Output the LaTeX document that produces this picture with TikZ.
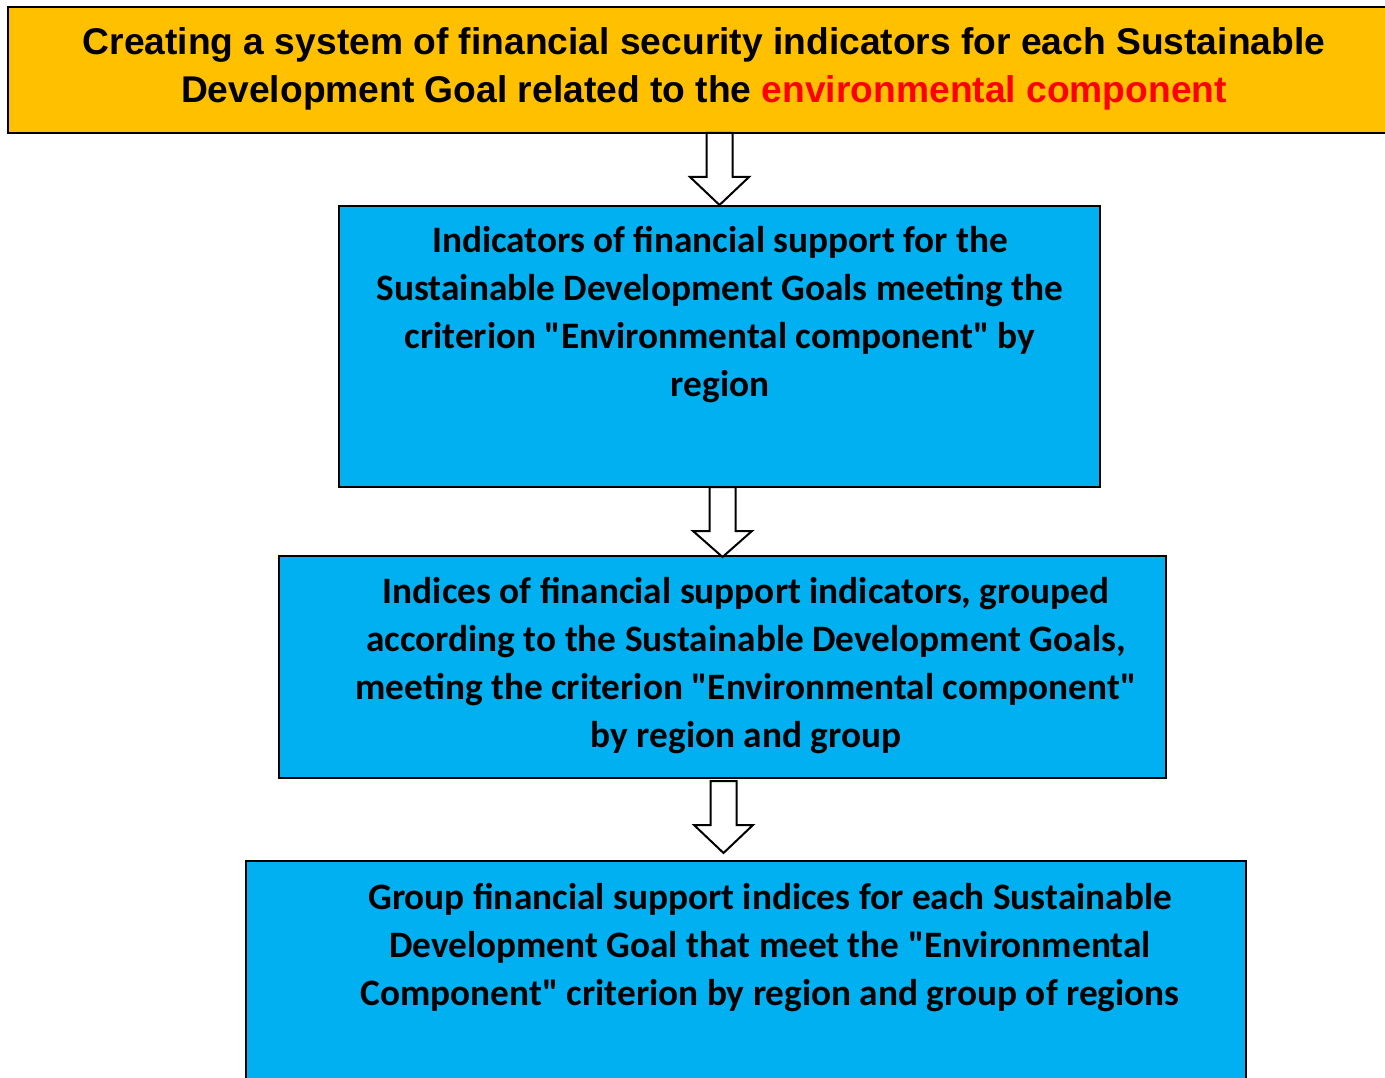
\documentclass[tikz,border=0pt]{standalone}
\usepackage{fontspec}
\newfontfamily\arialfont{Liberation Sans}
\newfontfamily\calibrifont{Carlito}
\usetikzlibrary{calc}
\definecolor{goldbox}{HTML}{FFC000}
\definecolor{bluebox}{HTML}{00B0F0}
\definecolor{redtext}{HTML}{FF0000}
\tikzset{
  boxstyle/.style={draw=black, line width=2pt, inner sep=0pt},
  titletext/.style={inner sep=0pt, align=center, font=\arialfont\bfseries\fontsize{37.2}{48}\selectfont},
  bodytext/.style={inner sep=0pt, align=center, font=\calibrifont\bfseries\fontsize{37.3}{48}\selectfont},
  hollow/.style={draw=black, fill=white, line width=2pt, line join=miter},
}
\newcommand\hollowarrow[3]{% start, tip, head length
  \draw[hollow] ($(#1)+(-13,0)$) -- ($(#1)+(13,0)$) -- ($(#2)+(13,#3)$) -- ($(#2)+(29.5,#3)$)
    -- (#2) -- ($(#2)+(-29.5,#3)$) -- ($(#2)+(-13,#3)$) -- cycle;
}
\begin{document}
\begin{tikzpicture}[x=1pt,y=-1pt]
\useasboundingbox (0,0) rectangle (1385,1078);
% boxes
\path[boxstyle, fill=goldbox] (8,7) rectangle (1400,133);
\node[boxstyle, fill=bluebox, minimum width=761pt, minimum height=281pt] (b1) at (719.5,346.5) {};
\node[boxstyle, fill=bluebox, minimum width=887pt, minimum height=222pt] (b2) at (722.5,667) {};
\node[boxstyle, fill=bluebox, minimum width=1000pt, minimum height=260pt] (b3) at (746,991) {};
% texts
\node[titletext] (t0) at (704,69) {Creating a system of financial security indicators for each Sustainable\\Development Goal related to the \textcolor{redtext}{environmental component}};
\node[bodytext] (t1) at (720,315) {Indicators of financial support for the\\Sustainable Development Goals meeting the\\criterion "Environmental component" by\\region};
\node[bodytext] (t2) at (746,666) {Indices of financial support indicators, grouped\\according to the Sustainable Development Goals,\\meeting the criterion "Environmental component"\\by region and group};
\node[bodytext] (t3) at (770,947.5) {Group financial support indices for each Sustainable\\Development Goal that meet the "Environmental\\Component" criterion by region and group of regions};
% arrows
\coordinate (a1s) at (719.5,133);
\coordinate (a1e) at (719.5,205);
\coordinate (a2s) at (722.5,487);
\coordinate (a2e) at (722.5,557);
\coordinate (a3s) at (723.5,781);
\coordinate (a3e) at (723.5,853);
\hollowarrow{a1s}{a1e}{-28}
\hollowarrow{a2s}{a2e}{-26}
\hollowarrow{a3s}{a3e}{-28}
\end{tikzpicture}
\end{document}
